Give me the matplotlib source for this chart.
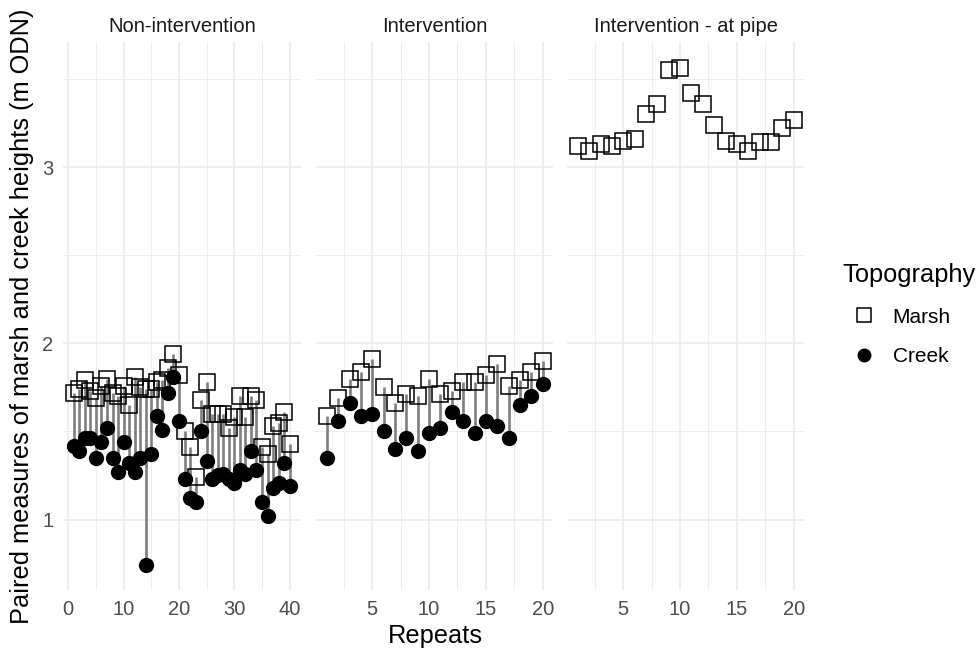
import numpy as np
import matplotlib
matplotlib.use("Agg")
import matplotlib.pyplot as plt
from matplotlib.lines import Line2D

plt.rcParams['font.family'] = ['Liberation Sans', 'DejaVu Sans']

# paired heights (m ODN), one value per repeat
non_marsh = [1.72, 1.74, 1.79, 1.73, 1.69, 1.76, 1.80, 1.72, 1.70, 1.76,
             1.65, 1.81, 1.75, 1.74, 1.74, 1.78, 1.79, 1.86, 1.94, 1.82,
             1.50, 1.41, 1.24, 1.68, 1.78, 1.60, 1.60, 1.60, 1.52, 1.58,
             1.70, 1.58, 1.70, 1.68, 1.41, 1.37, 1.53, 1.55, 1.61, 1.43]
non_creek = [1.42, 1.39, 1.46, 1.46, 1.35, 1.44, 1.52, 1.35, 1.27, 1.44,
             1.32, 1.27, 1.35, 0.74, 1.37, 1.59, 1.51, 1.72, 1.81, 1.56,
             1.23, 1.12, 1.10, 1.50, 1.33, 1.23, 1.25, 1.26, 1.23, 1.21,
             1.28, 1.26, 1.39, 1.28, 1.10, 1.02, 1.18, 1.21, 1.32, 1.19]
int_marsh = [1.59, 1.69, 1.80, 1.84, 1.91, 1.75, 1.66, 1.71, 1.70, 1.80,
             1.71, 1.73, 1.78, 1.78, 1.82, 1.88, 1.76, 1.79, 1.84, 1.90]
int_creek = [1.35, 1.56, 1.66, 1.59, 1.60, 1.50, 1.40, 1.46, 1.39, 1.49,
             1.52, 1.61, 1.56, 1.49, 1.56, 1.53, 1.46, 1.65, 1.70, 1.77]
pipe_marsh = [3.12, 3.09, 3.13, 3.12, 3.15, 3.16, 3.30, 3.36, 3.55, 3.56,
              3.42, 3.36, 3.24, 3.15, 3.13, 3.09, 3.14, 3.14, 3.22, 3.27]

panels = [
    ("Non-intervention", non_marsh, non_creek, [0, 10, 20, 30, 40]),
    ("Intervention", int_marsh, int_creek, [5, 10, 15, 20]),
    ("Intervention - at pipe", pipe_marsh, None, [5, 10, 15, 20]),
]

W, H = 979, 650
fig = plt.figure(figsize=(W / 100, H / 100), dpi=100)
lefts = [63, 316, 567]
pw = 237.5
top, bottom = 42, 590
grid_col = '#EBEBEB'
ylo, yhi = 0.60, 3.71

for k, (title, marsh, creek, ticks) in enumerate(panels):
    ax = fig.add_axes([lefts[k] / W, 1 - bottom / H, pw / W, (bottom - top) / H])
    n = len(marsh)
    x = np.arange(1, n + 1)
    pad = 0.05 * (n - 1)
    ax.set_xlim(1 - pad, n + pad)
    ax.set_ylim(ylo, yhi)
    for s in ax.spines.values():
        s.set_visible(False)
    step = ticks[1] - ticks[0]
    minors = np.arange(ticks[0] - step / 2, ticks[-1] + step, step)
    for m in minors:
        if 1 - pad <= m <= n + pad:
            ax.axvline(m, color=grid_col, lw=0.6, zorder=0)
    for t in ticks:
        ax.axvline(t, color=grid_col, lw=1.2, zorder=0)
    for m in [0.5, 1.5, 2.5, 3.5]:
        ax.axhline(m, color=grid_col, lw=0.6, zorder=0)
    for t in [1, 2, 3]:
        ax.axhline(t, color=grid_col, lw=1.2, zorder=0)

    if creek is not None:
        ax.vlines(x, creek, marsh, color='#7F7F7F', lw=1.9, zorder=2)
        ax.plot(x, creek, 'o', ms=10, color='black', zorder=3)
    ax.plot(x, marsh, 's', ms=11.5, mfc='none', mec='black', mew=1.1, zorder=4)

    ax.set_xticks(ticks)
    ax.set_yticks([1, 2, 3])
    ax.tick_params(length=0, labelsize=14.5, colors='#4D4D4D', pad=7)
    if k > 0:
        ax.set_yticklabels([])
    ax.set_title(title, fontsize=14.5, color='#1A1A1A', pad=7)

fig.text(22 / W, 1 - 316 / H, 'Paired measures of marsh and creek heights (m ODN)',
         rotation=90, ha='center', va='center', fontsize=18.3)
fig.text(435 / W, 1 - 636 / H, 'Repeats', ha='center', va='center', fontsize=18.3)

handles = [
    Line2D([], [], ls='none', marker='s', ms=10, mfc='none', mec='black', mew=1.1),
    Line2D([], [], ls='none', marker='o', ms=9, color='black'),
]
leg = fig.legend(handles, ['Marsh', 'Creek'], title='Topography',
                 loc='upper left', bbox_to_anchor=(824 / W, 1 - 244 / H),
                 frameon=False, fontsize=15, title_fontsize=18.3,
                 handletextpad=0.4, labelspacing=1.0, alignment='left')

fig.savefig('out.png', dpi=100)
